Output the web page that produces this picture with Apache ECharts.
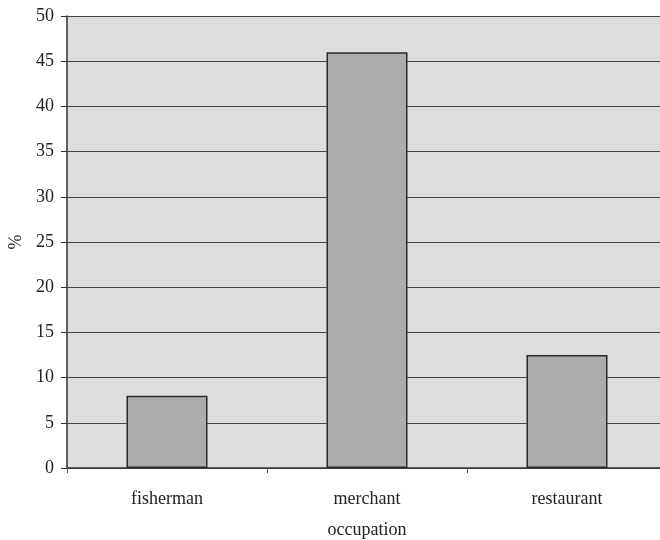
<!DOCTYPE html>
<html>
<head>
<meta charset="utf-8">
<script src="https://cdn.jsdelivr.net/npm/echarts@6/dist/echarts.min.js"></script>
<style>
  html, body { margin: 0; padding: 0; background: #ffffff; }
  #chart { width: 660px; height: 540px; }
</style>
</head>
<body>
<div id="chart"></div>
<script>
// Share of respondents by occupation (%)
const categories = ['fisherman', 'merchant', 'restaurant'];
const shares = [8, 46, 12.5];
const yTicks = { min: 0, max: 50, interval: 5 };

const font = 'Liberation Serif, Times New Roman, serif';
const chart = echarts.init(document.getElementById('chart'), null, { renderer: 'canvas' });

chart.setOption({
  animation: false,
  backgroundColor: '#ffffff',
  grid: {
    left: 67, top: 16, width: 600, height: 452,
    outerBoundsMode: 'none',
    containLabel: false,
    show: true, backgroundColor: '#dedede', borderWidth: 0
  },
  xAxis: {
    type: 'category',
    data: categories,
    name: 'occupation',
    nameLocation: 'middle',
    nameGap: 53,
    nameTextStyle: { fontFamily: font, fontSize: 18, color: '#222' },
    axisLine: { lineStyle: { color: '#333', width: 1.5 } },
    axisTick: { show: true, alignWithLabel: false, length: 5, lineStyle: { color: '#555' } },
    axisLabel: { fontFamily: font, fontSize: 18, color: '#222', margin: 22 }
  },
  yAxis: {
    type: 'value',
    min: yTicks.min, max: yTicks.max, interval: yTicks.interval,
    name: '%',
    nameLocation: 'middle',
    nameGap: 41,
    nameTextStyle: { fontFamily: font, fontSize: 18, color: '#222' },
    axisLine: { show: true, lineStyle: { color: '#333', width: 1.5 } },
    axisTick: { show: true, length: 6, lineStyle: { color: '#333' } },
    axisLabel: { fontFamily: font, fontSize: 18, color: '#222', margin: 13 },
    splitLine: { lineStyle: { color: '#444', width: 1.2 } }
  },
  series: [{
    type: 'bar',
    data: shares,
    barWidth: 81,
    itemStyle: { color: '#acacac', borderColor: '#2a2a2a', borderWidth: 1.5 }
  }]
});
</script>
</body>
</html>
